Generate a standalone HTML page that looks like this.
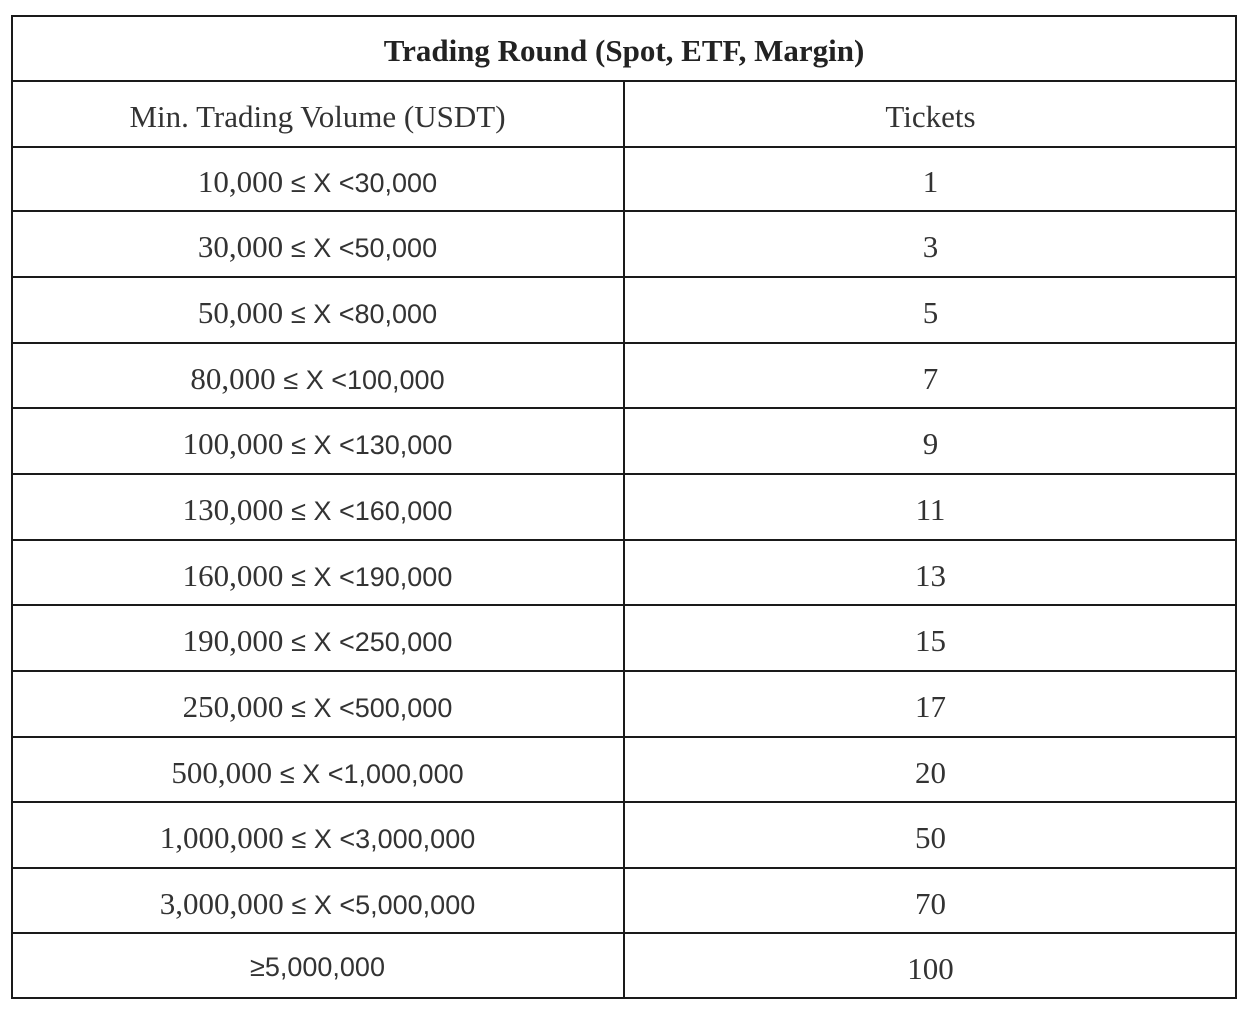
<!DOCTYPE html>
<html><head><meta charset="utf-8"><style>
body{margin:0;width:1250px;height:1014px;background:#fff;position:relative;overflow:hidden}
.h{position:absolute;left:11px;width:1226px;height:2px;background:#1a1a1a}
.v{position:absolute;width:2px;background:#1a1a1a}
.t{position:absolute;text-align:center;font-family:"Liberation Serif",serif;font-size:31px;color:#333;line-height:30px}
.s{font-family:"Liberation Sans",sans-serif;font-size:27px}
</style></head><body>
<div class="v" style="left:11px;top:15px;height:984px"></div>
<div class="v" style="left:1235px;top:15px;height:984px"></div>
<div class="v" style="left:623px;top:81px;height:918px"></div>
<div class="h" style="top:15px"></div>
<div class="h" style="top:80px"></div>
<div class="h" style="top:146px"></div>
<div class="h" style="top:210px"></div>
<div class="h" style="top:276px"></div>
<div class="h" style="top:342px"></div>
<div class="h" style="top:407px"></div>
<div class="h" style="top:473px"></div>
<div class="h" style="top:539px"></div>
<div class="h" style="top:604px"></div>
<div class="h" style="top:670px"></div>
<div class="h" style="top:736px"></div>
<div class="h" style="top:801px"></div>
<div class="h" style="top:867px"></div>
<div class="h" style="top:932px"></div>
<div class="h" style="top:997px"></div>
<div class="t" style="left:11px;width:1226px;top:36px;font-weight:bold;color:#222">Trading Round (Spot, ETF, Margin)</div>
<div id="rows"></div>
<script>
var tops=[81,147,211,277,343,408,474,540,605,671,737,802,868,933,998];
var L=[["Min. Trading Volume (USDT)",null],["10,000","30,000"],["30,000","50,000"],["50,000","80,000"],["80,000","100,000"],["100,000","130,000"],["130,000","160,000"],["160,000","190,000"],["190,000","250,000"],["250,000","500,000"],["500,000","1,000,000"],["1,000,000","3,000,000"],["3,000,000","5,000,000"],["≥5,000,000",""]];
var R=["Tickets","1","3","5","7","9","11","13","15","17","20","50","70","100"];
var h="";
for(var i=0;i<14;i++){var y=(tops[i]+tops[i+1])/2-12;
var l=L[i][1]===null?L[i][0]:(L[i][1]===""?'<span class="s">'+L[i][0]+'</span>':L[i][0]+' <span class="s">≤ X &lt;'+L[i][1]+'</span>');
if(i==13)y-=3;
h+='<div class="t" style="left:11px;width:613px;top:'+y+'px">'+l+'</div>';
h+='<div class="t" style="left:624px;width:613px;top:'+(y+(i==13?3:0))+'px">'+R[i]+'</div>';}
document.getElementById("rows").innerHTML=h;
</script>
</body></html>
